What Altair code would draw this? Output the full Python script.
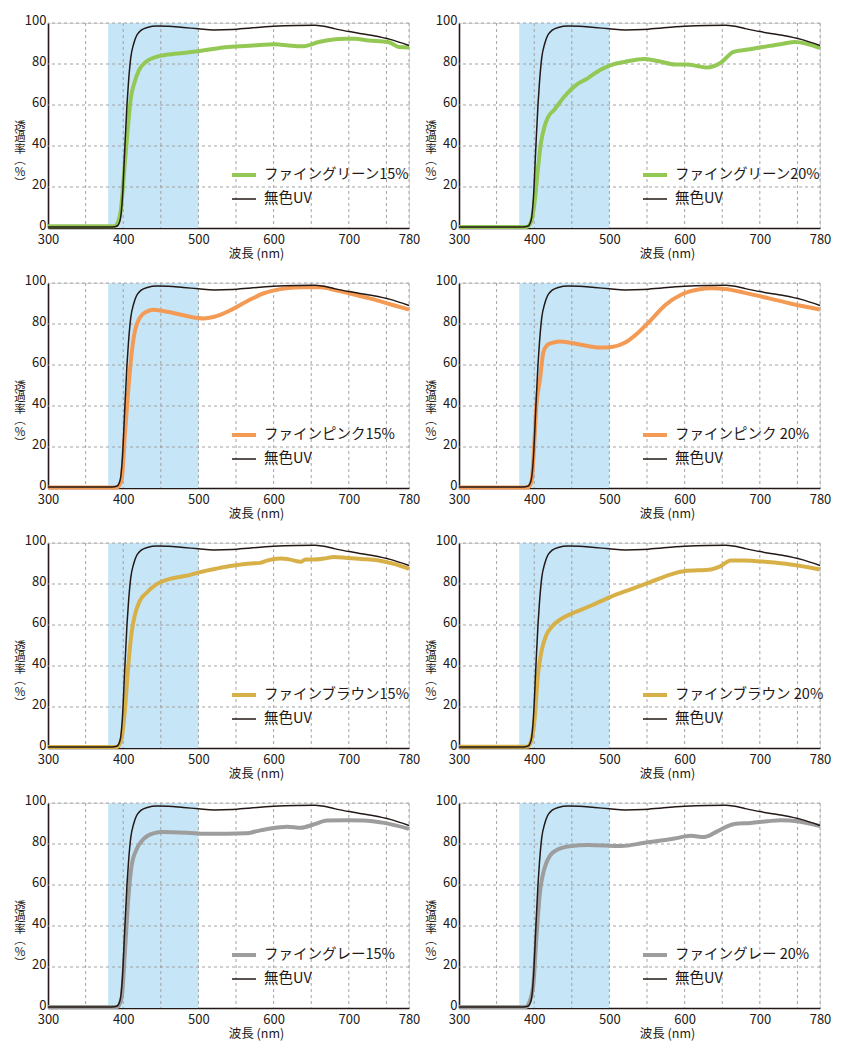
import altair as alt
import pandas as pd

FONT = "Noto Sans CJK JP"
INK = "#231815"
GRID_COLOR = "#9a9a9a"
BAND_COLOR = "#c6e6f8"

X_TICKS = [300, 400, 500, 600, 700, 780]
Y_TICKS = [0, 20, 40, 60, 80, 100]
GRID_X = [350, 400, 450, 500, 550, 600, 650, 700, 750, 780]
GRID_Y = [20, 40, 60, 80, 100]
BAND = [380, 500]
X_TITLE = "波長 (nm)"
Y_TITLE = "透\n過\n率\n︵\n%\n︶"

UV_NAME = "無色UV"
UV_WL = [300, 385, 392, 396, 399, 402, 405, 407, 410, 414, 418, 424, 432, 445, 460, 480, 500, 520, 545, 570, 600, 630, 655, 665, 680, 700, 730, 755, 780]
UV_T = [0.5, 0.5, 1, 4, 15, 38, 60, 71, 83, 90, 94, 96.5, 97.8, 98.5, 98.4, 97.8, 97.2, 96.6, 96.8, 97.6, 98.4, 98.8, 98.9, 98.5, 97.3, 95.8, 94, 92, 89]

G15_WL = [300, 388, 393, 397, 401.6, 406, 410, 415, 421, 430, 443, 457, 483, 501, 540, 572, 602, 620, 638, 660, 695, 708, 726, 752, 759, 766, 780]
G15_T = [0.8, 0.8, 2.8, 9, 29, 48, 63, 71, 77, 81, 83.4, 84.5, 85.5, 86.3, 88.3, 89, 89.6, 89, 88.6, 90.7, 92.3, 92.3, 91.5, 90.7, 89.6, 88.3, 88]

G20_WL = [300, 390, 396, 400.6, 405, 409, 414, 418, 427, 440, 456, 471, 487, 502, 520, 546, 564, 588, 604, 617, 630, 648, 665, 687, 709, 731, 747, 780]
G20_T = [0.5, 0.5, 3.2, 12.8, 29, 41.7, 49.8, 53.8, 57.8, 64, 69.8, 73, 77, 79.5, 81, 82.5, 81.5, 79.8, 79.8, 79, 78.3, 80.6, 85.9, 87.2, 88.6, 89.9, 90.7, 87.8]

P15_WL = [300, 392, 398, 402, 406.7, 411, 415.6, 422, 431, 440, 453, 471, 489, 507, 520, 542, 564, 587, 609, 636, 662, 684, 707, 733, 756, 780]
P15_T = [0.3, 0.3, 4, 25, 47.6, 65, 76.6, 83, 86, 87, 86.3, 85, 83.5, 82.7, 83.4, 86.6, 91, 95, 97, 97.9, 97.9, 96.3, 94.4, 92, 89.5, 87]

P20_WL = [300, 392, 396.6, 400, 403, 407.7, 412, 416.6, 423, 434, 450, 467.5, 487.5, 503, 521, 538.5, 556, 574, 596, 618, 636, 654, 680, 711, 742, 780]
P20_T = [0.3, 0.3, 3.5, 21, 40.5, 53, 66, 69.5, 70.7, 71.5, 70.7, 69.5, 68.5, 68.8, 71, 75.9, 82.3, 89.2, 94.4, 96.8, 97.4, 97.1, 95.2, 92.6, 89.9, 87.1]

B15_WL = [300, 392, 397.8, 402, 406.7, 411, 415.6, 422, 431, 444, 462, 484, 502, 524, 547, 569, 582, 591, 609, 622, 636, 642, 653, 667, 680, 698, 716, 738, 760, 780]
B15_T = [0.5, 0.5, 4.5, 17.5, 40, 56, 65, 71.7, 75.7, 79.8, 82.5, 84, 85.8, 87.5, 89, 90, 90.3, 91.4, 92.4, 91.9, 90.8, 91.9, 91.9, 92.4, 93.2, 92.7, 92.2, 91.6, 89.8, 87.4]

B20_WL = [300, 391, 396, 400.8, 405, 409.6, 416, 423, 436, 454, 476, 500, 529, 555, 582, 600, 635, 648, 661, 679, 710, 741, 780]
B20_T = [0.6, 0.6, 3.5, 14.8, 35.7, 47, 55, 59, 63, 66.2, 69.5, 73.5, 77.5, 81, 84.7, 86.3, 87.1, 88.7, 91.5, 91.5, 90.7, 89.5, 87.1]

R15_WL = [300, 392, 397.8, 402, 406.7, 411, 417.8, 426.7, 440, 453, 484, 511, 538, 564, 578, 596, 618, 636, 653, 671, 698, 720, 747, 780]
R15_T = [0.5, 0.5, 4.8, 25.8, 53, 69, 77.4, 82.3, 85.2, 85.8, 85.5, 85, 85, 85.2, 86.3, 87.6, 88.4, 87.9, 89.5, 91.5, 91.6, 91.5, 90.3, 87.4]

R20_WL = [300, 389, 394, 398.6, 403, 407.4, 414, 420.7, 431.7, 449.4, 471.5, 515.7, 546.7, 586.4, 608.5, 626, 644, 666, 688, 710, 728, 750, 780]
R20_T = [0.5, 0.5, 3.2, 10.5, 34.7, 55.6, 68.5, 74.2, 77.4, 79, 79.5, 79, 80.6, 82.7, 84, 83.4, 86.3, 89.8, 90.3, 91.1, 91.6, 91.1, 88.7]

PANELS = [
    ("ファイングリーン15%", "#94c855", G15_WL, G15_T),
    ("ファイングリーン20%", "#94c855", G20_WL, G20_T),
    ("ファインピンク15%", "#f39a55", P15_WL, P15_T),
    ("ファインピンク 20%", "#f39a55", P20_WL, P20_T),
    ("ファインブラウン15%", "#d8b048", B15_WL, B15_T),
    ("ファインブラウン 20%", "#d8b048", B20_WL, B20_T),
    ("ファイングレー15%", "#9d9d9d", R15_WL, R15_T),
    ("ファイングレー 20%", "#9d9d9d", R20_WL, R20_T),
]

W, H = 361, 205

XAXIS = alt.Axis(values=X_TICKS, title=X_TITLE)
YAXIS = alt.Axis(values=Y_TICKS, title=None)


def panel(name, color, wl, t):
    xs = alt.Scale(domain=[300, 780], nice=False, zero=False)
    ys = alt.Scale(domain=[0, 100], nice=False, zero=False)
    dom = [name, UV_NAME]
    cs = alt.Scale(domain=dom, range=[color, INK])
    ws = alt.Scale(domain=dom, range=[4, 1.5])

    leg = alt.Legend(
        title=None, orient="none", legendX=182, legendY=138,
        symbolType="stroke", symbolSize=576, labelFont=FONT, labelFontSize=14.5,
        labelColor=INK, labelOffset=6, rowPadding=3, labelLimit=300,
    )

    band_df = pd.DataFrame({"x0": [BAND[0]], "x1": [BAND[1]], "y0": [0], "y1": [100]})
    band = alt.Chart(band_df).mark_rect(color=BAND_COLOR).encode(
        x=alt.X("x0:Q", scale=xs, axis=XAXIS), x2="x1:Q",
        y=alt.Y("y0:Q", scale=ys, axis=YAXIS), y2="y1:Q",
    )
    gx = alt.Chart(pd.DataFrame({"g": GRID_X})).mark_rule(
        color=GRID_COLOR, strokeDash=[3, 3], strokeWidth=0.9
    ).encode(x=alt.X("g:Q", scale=xs, axis=XAXIS))
    gy = alt.Chart(pd.DataFrame({"g": GRID_Y})).mark_rule(
        color=GRID_COLOR, strokeDash=[3, 3], strokeWidth=0.9
    ).encode(y=alt.Y("g:Q", scale=ys, axis=YAXIS))

    ytitle = alt.Chart(pd.DataFrame({"t": [Y_TITLE]})).mark_text(
        lineBreak="\n", font=FONT, fontSize=11.5, lineHeight=11.5, color=INK,
        align="center", baseline="middle",
    ).encode(text="t:N", x=alt.value(-28), y=alt.value(H / 2 + 1))

    def line(df):
        return alt.Chart(df).mark_line(interpolate="monotone").encode(
            x=alt.X("wl:Q", scale=xs, axis=XAXIS),
            y=alt.Y("t:Q", scale=ys, axis=YAXIS),
            color=alt.Color("s:N", scale=cs, legend=leg),
            strokeWidth=alt.StrokeWidth("s:N", scale=ws, legend=leg),
        )

    tinted = line(pd.DataFrame({"wl": wl, "t": t, "s": name}))
    uv = line(pd.DataFrame({"wl": UV_WL, "t": UV_T, "s": UV_NAME}))
    return alt.layer(band, gx, gy, tinted, uv, ytitle).properties(width=W, height=H)


charts = [panel(*p) for p in PANELS]

chart = alt.concat(
    *charts, columns=2, spacing={"row": 55, "column": 50}, bounds="flush",
    padding={"left": 5, "top": 5, "right": 0, "bottom": 0},
).resolve_scale(
    color="independent", strokeWidth="independent"
).resolve_legend(
    color="independent", strokeWidth="independent"
).configure_view(
    strokeWidth=0
).configure(
    font=FONT
).configure_axisX(
    grid=False, ticks=False, labelFlush=False,
    labelFont=FONT, labelFontSize=13, labelColor=INK, labelPadding=5,
    domainColor=INK, domainWidth=1.6,
    titleFont=FONT, titleFontSize=12.5, titleFontWeight="normal",
    titleColor=INK, titleX=208, titleY=19.5, titleAlign="center", titleBaseline="top",
).configure_axisY(
    grid=False, ticks=False, labelOffset=-3,
    labelFont=FONT, labelFontSize=13, labelColor=INK, labelPadding=2,
    domainColor=INK, domainWidth=1.6,
)

chart.save("out.html", embed_options={"renderer": "svg", "actions": False})
